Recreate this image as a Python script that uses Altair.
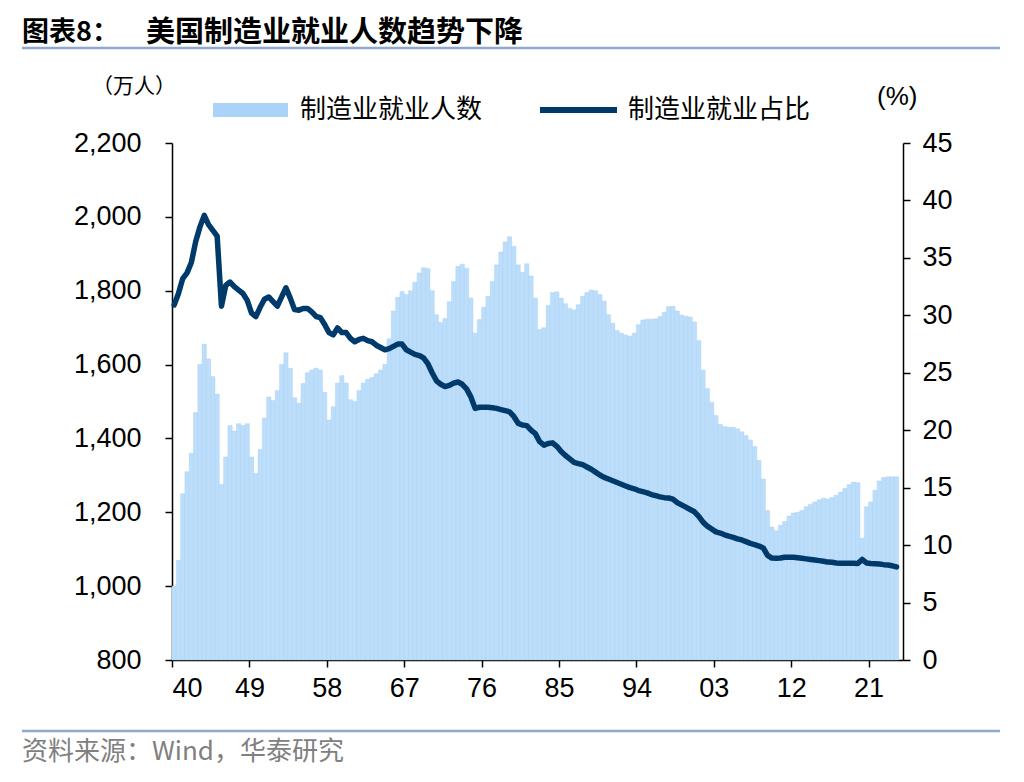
import altair as alt
import pandas as pd

# ---- data (half-year resolution) ----
start_year = 1940.25
step = 0.5

# 制造业就业人数 (万人)
employment = [1000, 1070, 1250, 1310, 1360, 1470, 1600, 1655, 1615, 1568,
              1520, 1275, 1350, 1435, 1420, 1440, 1435, 1440, 1350, 1305,
              1370, 1455, 1512, 1503, 1530, 1600, 1632, 1590, 1510, 1495,
              1549, 1578, 1585, 1590, 1585, 1525, 1450, 1486, 1550, 1570,
              1550, 1505, 1500, 1530, 1550, 1560, 1565, 1575, 1585, 1600,
              1670, 1745, 1782, 1798, 1790, 1800, 1823, 1848, 1862, 1860,
              1800, 1735, 1714, 1725, 1770, 1825, 1866, 1872, 1861, 1780,
              1685, 1722, 1755, 1785, 1825, 1870, 1905, 1932, 1946, 1920,
              1870, 1850, 1873, 1840, 1780, 1695, 1700, 1760, 1795, 1797,
              1780, 1765, 1752, 1748, 1762, 1785, 1795, 1802, 1800, 1790,
              1772, 1735, 1712, 1692, 1685, 1680, 1677, 1685, 1708, 1721,
              1723, 1723, 1724, 1730, 1742, 1757, 1758, 1745, 1734, 1731,
              1729, 1715, 1665, 1585, 1535, 1498, 1462, 1438, 1432, 1430,
              1430, 1426, 1418, 1408, 1396, 1378, 1340, 1290, 1205, 1160,
              1150, 1165, 1175, 1190, 1198, 1200, 1205, 1215, 1222, 1228,
              1234, 1238, 1236, 1240, 1246, 1255, 1265, 1275, 1282, 1280,
              1130, 1215, 1228, 1260, 1285, 1294, 1296, 1296, 1296]

# 制造业就业占比 (%)
share = [30.9, 31.9, 33.2, 33.7, 34.6, 36.4, 37.7, 38.7, 37.9, 37.4,
         36.9, 30.8, 32.6, 32.9, 32.5, 32.2, 31.9, 31.3, 30.2, 29.9,
         30.7, 31.4, 31.6, 31.2, 30.8, 31.6, 32.4, 31.5, 30.5, 30.45,
         30.6, 30.6, 30.3, 29.9, 29.8, 29.2, 28.5, 28.3, 28.9, 28.5,
         28.5, 28.0, 27.7, 27.9, 28.0, 27.8, 27.7, 27.4, 27.2, 27.0,
         27.1, 27.3, 27.5, 27.5, 27.0, 26.8, 26.6, 26.5, 26.3, 25.8,
         25.0, 24.3, 24.0, 23.8, 23.9, 24.1, 24.2, 24.0, 23.6, 22.9,
         21.9, 22.0, 22.0, 22.0, 21.95, 21.9, 21.8, 21.7, 21.6, 21.2,
         20.6, 20.45, 20.4, 20.0, 19.7, 19.0, 18.7, 18.85, 18.9, 18.6,
         18.15, 17.8, 17.5, 17.2, 17.1, 17.0, 16.8, 16.6, 16.35, 16.1,
         15.9, 15.75, 15.6, 15.45, 15.3, 15.15, 15.0, 14.9, 14.75, 14.65,
         14.55, 14.4, 14.3, 14.2, 14.13, 14.1, 14.0, 13.7, 13.5, 13.3,
         13.1, 12.9, 12.5, 12.0, 11.65, 11.4, 11.15, 11.05, 10.9, 10.78,
         10.68, 10.55, 10.45, 10.3, 10.15, 10.05, 9.92, 9.75, 9.1, 8.87,
         8.85, 8.88, 8.95, 8.95, 8.95, 8.9, 8.85, 8.8, 8.75, 8.7,
         8.65, 8.6, 8.52, 8.5, 8.45, 8.42, 8.42, 8.42, 8.42, 8.4,
         8.75, 8.45, 8.4, 8.38, 8.35, 8.3, 8.27, 8.2, 8.1]

years = [start_year + step * i for i in range(len(employment))]

x_tick_years = [1940, 1949, 1958, 1967, 1976, 1985, 1994, 2003, 2012, 2021]
left_ticks = [800, 1000, 1200, 1400, 1600, 1800, 2000, 2200]
right_ticks = [0, 5, 10, 15, 20, 25, 30, 35, 40, 45]

title_prefix = "图表8："
title_main = "美国制造业就业人数趋势下降"
legend_bar = "制造业就业人数"
legend_line = "制造业就业占比"
left_unit = "（万人）"
right_unit = "(%)"
source_text = "资料来源：Wind，华泰研究"

BAR_FILL = "#BCDEFB"
BAR_STROKE = "#A6CFF3"
LINE_COLOR = "#003A6B"
SEP_COLOR = "#8EA9CB"
NUM_FONT = "Liberation Sans, Arial, sans-serif"
CJK_FONT = "Noto Sans CJK SC"

df = pd.DataFrame({"year": years, "employment": employment, "share": share})

x_enc = alt.X(
    "year:Q",
    scale=alt.Scale(domain=[1940, 2025], nice=False, zero=False, padding=0),
    axis=alt.Axis(values=x_tick_years, format="d",
                  labelExpr="substring(datum.label, 2, 4)",
                  title=None, tickSize=7, labelPadding=8),
)

bars = alt.Chart(df).mark_bar(
    width=4.3, color=BAR_FILL, stroke=BAR_STROKE, strokeWidth=0.4
).encode(
    x=x_enc,
    y=alt.Y("employment:Q",
            scale=alt.Scale(domain=[800, 2200], nice=False, zero=False),
            axis=alt.Axis(values=left_ticks, format=",d", orient="left",
                          title=None, tickSize=7, labelPadding=24)),
    y2=alt.datum(800),
)

line = alt.Chart(df).mark_line(
    color=LINE_COLOR, strokeWidth=5.5, strokeJoin="round", strokeCap="round"
).encode(
    x=x_enc,
    y=alt.Y("share:Q",
            scale=alt.Scale(domain=[0, 45], nice=False, zero=True),
            axis=alt.Axis(values=right_ticks, orient="right", title=None,
                          tickSize=7, labelPadding=12)),
)

one = alt.Data(values=[{"k": 1}])

def text_layer(txt, x, y, size, color="black", font=CJK_FONT, weight="normal",
               align="left"):
    return alt.Chart(one).mark_text(
        text=txt, align=align, baseline="middle", fontSize=size,
        font=font, fontWeight=weight, color=color
    ).encode(x=alt.value(x), y=alt.value(y))

title1 = text_layer(title_prefix, -150, -110, 27, weight="bold")
title2 = text_layer(title_main, -26, -110, 29, weight="bold")
sep_top = alt.Chart(one).mark_rule(color=SEP_COLOR, strokeWidth=2.5).encode(
    x=alt.value(-150), x2=alt.value(828), y=alt.value(-95))
sep_bottom = alt.Chart(one).mark_rule(color=SEP_COLOR, strokeWidth=2.5).encode(
    x=alt.value(-150), x2=alt.value(828), y=alt.value(588))
source = text_layer(source_text, -150, 609, 26, color="#808080")

leg_rect = alt.Chart(one).mark_rect(color="#A9D3F7").encode(
    x=alt.value(41), x2=alt.value(116), y=alt.value(-40), y2=alt.value(-26))
leg_line = alt.Chart(one).mark_rule(color=LINE_COLOR, strokeWidth=6).encode(
    x=alt.value(368), x2=alt.value(445), y=alt.value(-33))
leg_t1 = text_layer(legend_bar, 128, -33, 26)
leg_t2 = text_layer(legend_line, 456, -33, 26)
unit_l = text_layer(left_unit, -80, -56, 21)
unit_r = text_layer(right_unit, 705, -46, 26, font=NUM_FONT)

chart = alt.layer(
    bars, line,
    title1, title2, sep_top, sep_bottom, source,
    leg_rect, leg_line, leg_t1, leg_t2, unit_l, unit_r,
).resolve_scale(
    y="independent"
).properties(
    width=731, height=517,
    autosize=alt.AutoSizeParams(type="none"),
    padding={"left": 164, "top": 135, "right": 100, "bottom": 110},
    background="white",
).configure_view(
    strokeWidth=0
).configure_axis(
    grid=False,
    labelFont=NUM_FONT, labelFontSize=27, labelColor="black",
    domainColor="black", tickColor="black", domainWidth=1.5, tickWidth=1.5,
)

chart.save("out.html", embed_options={"renderer": "svg", "actions": False})
